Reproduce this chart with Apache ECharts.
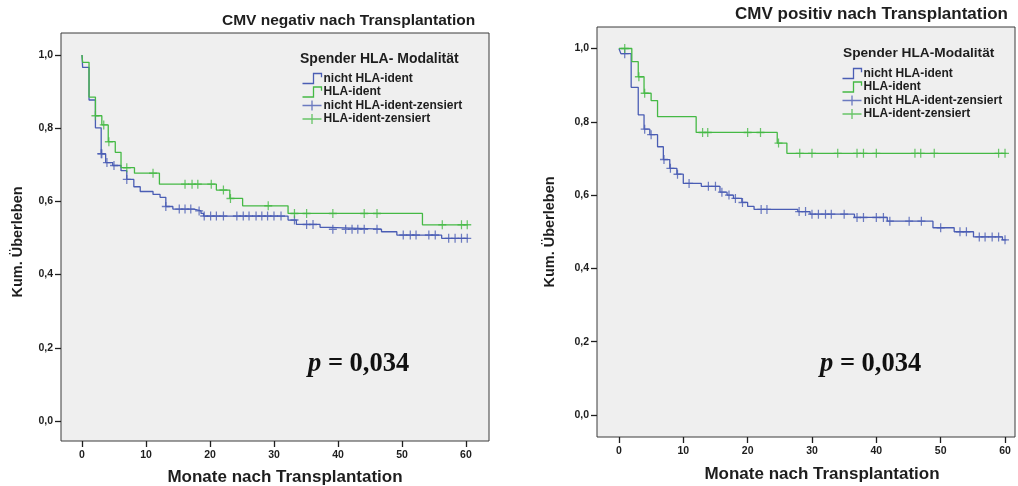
<!DOCTYPE html>
<html>
<head>
<meta charset="utf-8">
<script src="https://cdn.jsdelivr.net/npm/echarts@6/dist/echarts.min.js"></script>
<style>
  html, body { margin: 0; padding: 0; background: #ffffff; }
  #c { width: 1018px; height: 486px; }
</style>
</head>
<body>
<div id="c"></div>
<script>
// Kaplan-Meier estimates, months after transplantation
// CMV negativ – nicht HLA-ident
const negNichtTimes = [0, 0.1, 1.1, 2.1, 3.0, 3.7, 4.8, 6.1, 7.0, 8.1, 9.1, 11.1, 12.2, 13.1, 14.2, 17.5, 18.6, 19.0, 32.2, 33.5, 37.2, 38.6, 46.8, 49.2, 56.2];
const negNichtSurv  = [1.0, 0.966, 0.877, 0.801, 0.730, 0.706, 0.698, 0.684, 0.660, 0.640, 0.627, 0.619, 0.611, 0.586, 0.579, 0.574, 0.567, 0.560, 0.549, 0.537, 0.529, 0.524, 0.517, 0.508, 0.499];
const negNichtCens  = [3.0, 3.1, 3.9, 5.0, 7.0, 13.1, 15.2, 16.1, 17.0, 18.3, 19.1, 20.1, 21.0, 22.1, 24.2, 25.2, 26.1, 27.2, 28.1, 29.0, 30.0, 31.1, 33.2, 35.1, 36.1, 39.2, 41.2, 42.2, 43.1, 44.1, 46.1, 50.2, 51.3, 52.2, 54.2, 55.2, 57.3, 58.3, 59.3, 60.2];
const negNichtEnd   = 60.3;

// CMV negativ – HLA-ident
const negIdentTimes = [0, 0.1, 1.1, 2.1, 3.1, 4.1, 5.2, 6.1, 8.2, 12.1, 21.0, 23.1, 25.1, 32.2, 53.2];
const negIdentSurv  = [1.0, 0.980, 0.885, 0.834, 0.809, 0.763, 0.734, 0.692, 0.677, 0.647, 0.631, 0.608, 0.588, 0.567, 0.536];
const negIdentCens  = [2.1, 3.4, 4.2, 7.0, 11.1, 16.1, 17.2, 18.1, 20.2, 22.1, 23.2, 29.1, 33.2, 35.1, 39.2, 44.1, 46.1, 56.3, 59.3, 60.2];
const negIdentEnd   = 60.3;

// CMV positiv – nicht HLA-ident
const posNichtTimes = [0, 0.3, 1.9, 3.0, 3.9, 4.8, 6.0, 6.9, 7.9, 9.0, 10.0, 12.8, 15.7, 16.8, 17.8, 19.1, 20.0, 21.0, 27.8, 29.7, 36.6, 41.7, 48.8, 52.1, 55.1, 59.6];
const posNichtSurv  = [1.0, 0.986, 0.894, 0.819, 0.780, 0.765, 0.732, 0.697, 0.673, 0.657, 0.632, 0.624, 0.608, 0.600, 0.591, 0.580, 0.569, 0.561, 0.555, 0.548, 0.539, 0.529, 0.511, 0.500, 0.486, 0.478];
const posNichtCens  = [0.9, 4.0, 5.0, 7.0, 8.0, 9.1, 10.9, 13.9, 15.0, 16.0, 17.1, 18.1, 19.2, 22.1, 23.0, 28.0, 29.0, 30.0, 31.0, 32.1, 33.0, 35.0, 37.0, 38.0, 40.0, 41.1, 42.1, 45.1, 47.0, 50.0, 53.0, 54.0, 56.0, 56.9, 58.0, 59.0, 60.0];
const posNichtEnd   = 60.2;

// CMV positiv – HLA-ident
const posIdentTimes = [0, 2.0, 3.0, 3.9, 5.0, 6.0, 12.0, 24.6, 26.1];
const posIdentSurv  = [1.0, 0.964, 0.923, 0.878, 0.858, 0.814, 0.771, 0.742, 0.714];
const posIdentCens  = [0.9, 3.1, 4.0, 13.0, 13.8, 20.0, 22.0, 24.8, 28.1, 30.0, 34.0, 37.0, 38.0, 40.0, 46.0, 46.9, 49.0, 59.0, 60.0];
const posIdentEnd   = 60.2;

// Axis ticks and labels
const xTicks = [0, 10, 20, 30, 40, 50, 60];
const xTickLabels = ['0', '10', '20', '30', '40', '50', '60'];
const yTicks = [0, 0.2, 0.4, 0.6, 0.8, 1.0];
const yTickLabels = ['0,0', '0,2', '0,4', '0,6', '0,8', '1,0'];

const groupNames = ['nicht HLA-ident', 'HLA-ident', 'nicht HLA-ident-zensiert', 'HLA-ident-zensiert'];

const BLUE = '#4a5db4';
const GREEN = '#45b945';
const INK = '#1e1e1e';
const FONT = '"Liberation Sans", Arial, sans-serif';

function stepData(times, surv, end) {
  const pts = times.map((t, i) => [t, surv[i]]);
  pts.push([end, surv[surv.length - 1]]);
  return pts;
}
function survAt(times, surv, t) {
  let s = surv[0];
  for (let i = 0; i < times.length; i++) { if (times[i] <= t) s = surv[i]; }
  return s;
}
function censData(times, surv, cens) {
  return cens.map(t => [t, survAt(times, surv, t)]);
}

const PLUS = 'path://M0,5H10M5,0V10';

function lineSeries(name, idx, color, times, surv, end) {
  return {
    name, type: 'line', xAxisIndex: idx, yAxisIndex: idx, step: 'end',
    showSymbol: false, symbol: 'none', animation: false,
    lineStyle: { color, width: 1.3 }, itemStyle: { color },
    data: stepData(times, surv, end), z: 3
  };
}
function censSeries(name, idx, color, times, surv, cens) {
  return {
    name, type: 'scatter', xAxisIndex: idx, yAxisIndex: idx,
    symbol: PLUS, symbolSize: [8, 9], symbolKeepAspect: false, animation: false,
    itemStyle: { color: 'none', borderColor: color, borderWidth: 1.3 },
    data: censData(times, surv, cens), z: 4
  };
}

function xAxis(idx, min, max, gap, shift) {
  return {
    type: 'value', gridIndex: idx, min, max,
    name: 'Monate nach Transplantation', nameLocation: 'middle', nameGap: gap,
    nameTextStyle: { fontFamily: FONT, fontWeight: 'bold', fontSize: 17, color: INK, padding: [0, 0, 0, shift] },
    axisLine: { show: false, onZero: false },
    axisTick: { show: true, customValues: xTicks, length: 6, lineStyle: { color: INK, width: 1.3 } },
    axisLabel: {
      customValues: xTicks, margin: 9, fontFamily: FONT, fontWeight: 'bold', fontSize: 10.5, color: INK,
      formatter: v => xTickLabels[xTicks.indexOf(v)] ?? ''
    },
    splitLine: { show: false }
  };
}
function yAxis(idx, min, max, gap, pad) {
  return {
    type: 'value', gridIndex: idx, min, max,
    name: 'Kum. Überleben', nameLocation: 'middle', nameGap: gap,
    nameTextStyle: { fontFamily: FONT, fontWeight: 'bold', fontSize: 14.5, color: INK, padding: pad },
    axisLine: { show: false, onZero: false },
    axisTick: { show: true, customValues: yTicks, length: 6, lineStyle: { color: INK, width: 1.3 } },
    axisLabel: {
      customValues: yTicks, margin: 8, fontFamily: FONT, fontWeight: 'bold', fontSize: 10.5, color: INK,
      formatter: v => {
        const i = yTicks.findIndex(t => Math.abs(t - v) < 1e-9);
        return i >= 0 ? yTickLabels[i] : '';
      }
    },
    splitLine: { show: false }
  };
}

const STEP_ICON = 'path://M0,9H11V1H19V4';
const PLUS_ICON = 'path://M0,5H19M9.5,0V10';
function legendData() {
  return [
    { name: groupNames[0], icon: STEP_ICON, itemStyle: { color: 'none', borderColor: BLUE, borderWidth: 1.3 } },
    { name: groupNames[1], icon: STEP_ICON, itemStyle: { color: 'none', borderColor: GREEN, borderWidth: 1.3 } },
    { name: groupNames[2], icon: PLUS_ICON, itemStyle: { color: 'none', borderColor: BLUE, borderWidth: 1.3 } },
    { name: groupNames[3], icon: PLUS_ICON, itemStyle: { color: 'none', borderColor: GREEN, borderWidth: 1.3 } }
  ];
}
function legend(left, top) {
  return {
    left, top, orient: 'vertical', selectedMode: false,
    itemWidth: 19, itemHeight: 10, itemGap: -1.5, padding: 0,
    symbolKeepAspect: false,
    textStyle: { fontFamily: FONT, fontWeight: 'bold', fontSize: 12, color: INK, padding: [0, 0, 0, -3] },
    data: legendData()
  };
}

function heading(text, left, top, size) {
  return { text, left, top, padding: 0,
    textStyle: { fontFamily: FONT, fontWeight: 'bold', fontSize: size, color: INK } };
}
function pValue(left, top) {
  return {
    text: '{p|p} = 0,034', left, top, padding: 0,
    textStyle: {
      fontFamily: '"Liberation Serif", "Times New Roman", serif', fontWeight: 'bold', fontSize: 26.5, color: '#111',
      rich: { p: { fontFamily: '"Liberation Serif", "Times New Roman", serif', fontStyle: 'italic', fontWeight: 'bold', fontSize: 26.5, color: '#111' } }
    }
  };
}

const option = {
  backgroundColor: '#ffffff',
  animation: false,
  title: [
    heading('CMV negativ nach Transplantation', 222, 13, 15.5),
    heading('CMV positiv nach Transplantation', 735, 6, 17),
    heading('Spender HLA- Modalität', 300, 52, 14),
    heading('Spender HLA-Modalität', 843, 46, 13.7),
    pValue(308, 351),
    pValue(820, 351)
  ],
  legend: [legend(300, 71), legend(840, 66)],
  grid: [
    { left: 61, top: 33, width: 428, height: 408, outerBoundsMode: 'none', show: true, backgroundColor: '#efefef', borderColor: '#3a3a3a', borderWidth: 1 },
    { left: 597, top: 27, width: 418, height: 410, outerBoundsMode: 'none', show: true, backgroundColor: '#efefef', borderColor: '#3a3a3a', borderWidth: 1 }
  ],
  xAxis: [xAxis(0, -3.28, 63.6, 28, 20), xAxis(1, -3.41, 61.55, 29, 32)],
  yAxis: [yAxis(0, -0.0546, 1.060, 36, [0, 10, 0, 0]), yAxis(1, -0.060, 1.0587, 40, 0)],
  series: [
    lineSeries(groupNames[0], 0, BLUE, negNichtTimes, negNichtSurv, negNichtEnd),
    lineSeries(groupNames[1], 0, GREEN, negIdentTimes, negIdentSurv, negIdentEnd),
    censSeries(groupNames[2], 0, BLUE, negNichtTimes, negNichtSurv, negNichtCens),
    censSeries(groupNames[3], 0, GREEN, negIdentTimes, negIdentSurv, negIdentCens),
    lineSeries(groupNames[0], 1, BLUE, posNichtTimes, posNichtSurv, posNichtEnd),
    lineSeries(groupNames[1], 1, GREEN, posIdentTimes, posIdentSurv, posIdentEnd),
    censSeries(groupNames[2], 1, BLUE, posNichtTimes, posNichtSurv, posNichtCens),
    censSeries(groupNames[3], 1, GREEN, posIdentTimes, posIdentSurv, posIdentCens)
  ]
};

const chart = echarts.init(document.getElementById('c'), null, { renderer: 'canvas' });
chart.setOption(option);
</script>
</body>
</html>
